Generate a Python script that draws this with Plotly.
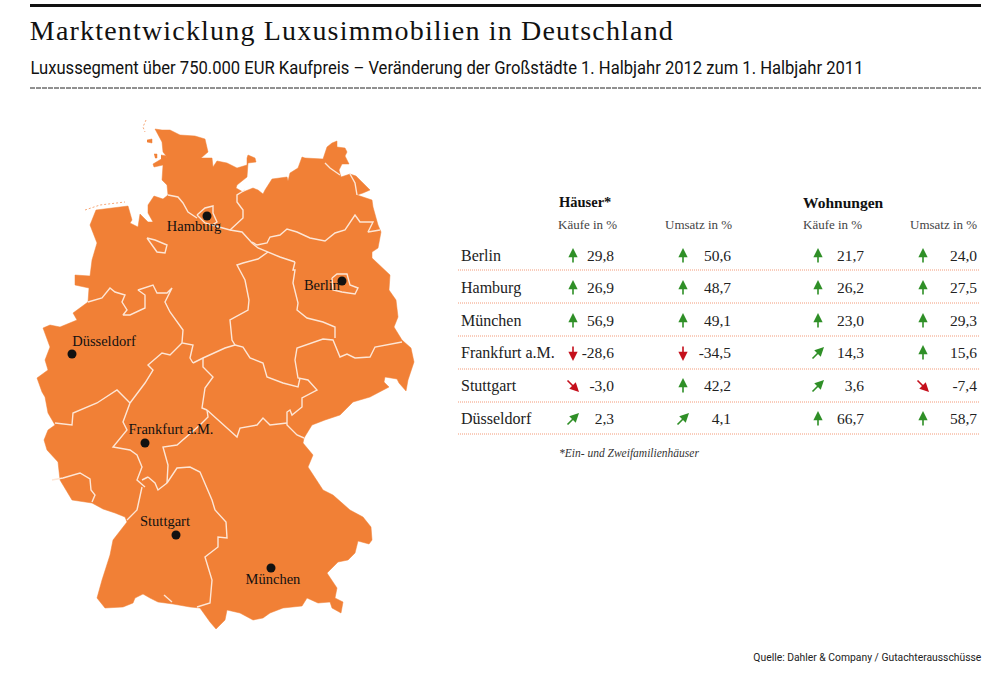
import plotly.graph_objects as go

ORANGE = '#f18036'
BORDER = '#fde6d6'
GREEN = '#2f8f27'
RED = '#c5101c'
SERIF = 'Liberation Serif'
SANS = 'Roboto'

# map outline
outline = [(155,129),(162,130),(170,130),(180,135),(195,136),(205,139),(208,152),(201,158),(212,158),(213,167),
           (217,161),(227,163),(237,168),(247,165),(247,158),(248,155),(255,158),(256,162),(248,163),(247,177),
           (237,185),(236,188),(243,192),(253,188),(258,190),(263,194),(265,190),(272,179),(287,177),(288,181),
           (290,173),(298,168),(302,157),(305,158),(323,159),(327,147),(332,143),(337,141),(337,147),(345,148),
           (347,152),(345,156),(349,164),(342,164),(339,170),(341,177),(350,174),(356,176),(362,182),(370,190),
           (363,193),(357,195),(372,200),(373,207),(378,225),(381,232),(378,248),(372,252),(372,258),(377,263),
           (390,275),(389,290),(396,300),(398,317),(394,327),(402,340),(411,348),(414,362),(408,380),(406,391),
           (399,383),(397,379),(385,377),(384,382),(389,387),(370,397),(353,402),(347,408),(340,415),(325,420),
           (312,425),(304,438),(303,443),(313,455),(308,467),(323,490),(333,495),(350,510),(363,517),(371,527),
           (372,540),(369,544),(358,541),(355,553),(348,560),(338,562),(327,573),(337,588),(335,598),(343,602),
           (341,613),(332,608),(330,602),(318,603),(307,598),(302,606),(283,608),(270,613),(263,618),(253,620),
           (240,613),(227,610),(225,620),(216,629),(210,622),(200,608),(190,607),(173,604),(158,602),(150,598),
           (143,594),(135,598),(133,603),(123,607),(105,608),(97,598),(102,580),(110,555),(113,540),(127,522),
           (125,517),(115,513),(103,509),(92,503),(72,500),(60,480),(58,462),(47,450),(44,440),(48,430),
           (55,425),(48,413),(45,397),(42,392),(38,382),(37,378),(48,370),(45,360),(50,347),(43,328),
           (50,325),(60,327),(77,320),(73,313),(88,302),(89,288),(75,285),(75,275),(90,276),(92,260),
           (97,243),(90,225),(96,210),(128,206),(132,220),(130,223),(138,227),(140,214),(148,222),(153,222),
           (148,213),(148,205),(154,196),(163,199),(168,195),(167,185),(162,180),(163,165),(154,167),(153,164),
           (163,158),(167,157),(163,152),(162,142),(155,129)]

# state borders
borders = [
    [(168,195),(178,197),(183,203),(188,212),(197,218)],
    [(197,215),(205,208),(213,206),(213,213),(217,222),(212,225),(205,223),(197,215)],
    [(212,225),(223,228),(230,230),(242,232),(252,243),(258,248),(268,252),(280,257),(295,262)],
    [(230,230),(243,218),(243,210),(237,202),(237,195),(245,190)],
    [(252,242),(257,245),(267,243),(270,237),(280,235),(287,229),(297,232),(310,238),(325,241),(335,233),(345,230),(355,215),(360,222),(373,222),(368,232),(380,230)],
    [(268,252),(258,259),(243,263),(237,265),(245,280),(249,300),(248,310),(230,320),(232,340),(235,345)],
    [(295,262),(293,270),(295,270),(293,283),(298,303),(297,310),(307,318),(323,322),(335,327),(335,338)],
    [(295,360),(297,348),(323,339),(333,340),(340,357),(347,354),(355,358),(370,357),(375,347),(397,343),(402,342)],
    [(235,345),(243,347),(250,358),(263,363),(267,377),(283,383),(298,387),(300,378)],
    [(295,360),(298,378),(308,380),(317,390),(302,398),(302,407),(292,415),(290,410),(287,412),(287,425),(297,435),(304,438)],
    [(287,423),(270,425),(263,418),(257,425),(240,428),(237,437),(227,428),(213,415),(207,410)],
    [(207,410),(202,408),(205,388),(213,377),(203,367),(203,358)],
    [(235,345),(225,348),(203,358),(193,363)],
    [(88,302),(102,298),(110,288),(115,292),(125,295),(122,302),(127,310),(123,315),(130,315),(145,308),(145,295),(138,290),(153,285),(157,293),(167,293),(172,288),(165,302),(170,312),(183,330),(182,343),(193,345),(190,358),(193,363)],
    [(182,343),(170,355),(162,353),(148,365),(153,370),(145,383),(130,403)],
    [(130,403),(117,390),(97,403),(73,413),(72,425),(55,423)],
    [(147,238),(155,240),(167,245),(165,253),(157,252),(147,238)],
    [(130,403),(123,422),(127,430),(113,447),(130,450),(137,455),(142,467),(137,480),(145,487)],
    [(142,487),(137,510),(127,520)],
    [(148,477),(155,483),(158,490),(167,483)],
    [(142,480),(148,477)],
    [(207,410),(208,417),(200,425),(185,438),(177,445),(163,447),(168,465),(167,483)],
    [(167,483),(177,468),(190,467),(200,472),(212,500),(215,510),(226,522),(227,538),(218,537),(218,547),(205,557),(212,580),(210,603),(197,607)],
    [(164,595),(172,602)],
    [(52,480),(63,478),(80,473),(90,479),(91,490),(95,495),(92,502)],
    [(332,278),(337,274),(347,274),(350,285),(358,288),(355,294),(342,292),(333,290),(332,278)],
    [(325,163),(330,168),(340,175)],
    [(350,174),(355,183),(357,195)],
]

# small islands off the coast
islands = [[(147,140),(152,139),(152,143),(147,142)],
           [(154,154),(157,154),(157,158),(155,158)],
           [(161,155),(167,156),(165,160),(161,159)]]
sandbanks = [[(85,210),(100,205),(125,202)], [(146,120),(143,127),(145,132)]]

cities = ['Berlin', 'Hamburg', 'München', 'Frankfurt a.M.', 'Stuttgart', 'Düsseldorf']
city_dot_x = [342, 207, 271, 145, 176, 72]
city_dot_y = [281, 216, 568, 443, 535, 354]
city_label_x = [322, 194, 273, 171, 165, 104]
city_label_y = [286, 227, 580, 430, 522, 342]

haeuser_kaeufe = ['29,8', '26,9', '56,9', '-28,6', '-3,0', '2,3']
haeuser_umsatz = ['50,6', '48,7', '49,1', '-34,5', '42,2', '4,1']
wohnungen_kaeufe = ['21,7', '26,2', '23,0', '14,3', '3,6', '66,7']
wohnungen_umsatz = ['24,0', '27,5', '29,3', '15,6', '-7,4', '58,7']

# arrow direction per cell: u up, d down, ur up right, dr down right
haeuser_kaeufe_dir = ['u', 'u', 'u', 'd', 'dr', 'ur']
haeuser_umsatz_dir = ['u', 'u', 'u', 'd', 'u', 'ur']
wohnungen_kaeufe_dir = ['u', 'u', 'u', 'ur', 'ur', 'u']
wohnungen_umsatz_dir = ['u', 'u', 'u', 'u', 'dr', 'u']

row_y = [256, 288, 321, 353, 386, 419]
rule_y = [270, 303, 336, 369, 402, 434]

TITLE = 'Marktentwicklung Luxusimmobilien in Deutschland'
SUBTITLE = 'Luxussegment über 750.000 EUR Kaufpreis – Veränderung der Großstädte 1. Halbjahr 2012 zum 1. Halbjahr 2011'
SOURCE = 'Quelle: Dahler & Company / Gutachterausschüsse'

fig = go.Figure()


def shape_trace(pts, fill=True, color=ORANGE, width=0.5, dash=None):
    xs, ys = zip(*pts)
    fig.add_trace(go.Scatter(x=xs, y=ys, mode='lines', fill='toself' if fill else 'none',
                             fillcolor=color, line=dict(color=color, width=width, dash=dash)))


shape_trace(outline)
for pts in islands:
    shape_trace(pts)
for pts in sandbanks:
    shape_trace(pts, fill=False, color='#f7a878', width=1, dash='2px 2px')
for pts in borders:
    shape_trace(pts, fill=False, color=BORDER, width=1.4)

fig.add_trace(go.Scatter(x=city_dot_x, y=city_dot_y, mode='markers',
                         marker=dict(color='#111111', size=9)))
fig.add_trace(go.Scatter(x=city_label_x, y=city_label_y, mode='text', text=cities,
                         textposition='middle center',
                         textfont=dict(family=SERIF, size=14.5, color='#111111')))

# table rules
for y in rule_y:
    fig.add_trace(go.Scatter(x=[458, 979], y=[y, y], mode='lines',
                             line=dict(color='#f39a78', width=1, dash='1px 1px')))

# table text, one pixel below the arrow centres
text_y = [y + 1 for y in row_y]
fig.add_trace(go.Scatter(x=[461] * 6, y=text_y, mode='text', text=cities, textposition='middle right',
                         textfont=dict(family=SERIF, size=16, color='#222222')))
columns = [(614, 573, haeuser_kaeufe, haeuser_kaeufe_dir),
           (731, 683, haeuser_umsatz, haeuser_umsatz_dir),
           (864, 818, wohnungen_kaeufe, wohnungen_kaeufe_dir),
           (977, 923, wohnungen_umsatz, wohnungen_umsatz_dir)]
offsets = {'u': (0, -8, 0, 8), 'd': (0, 8, 0, -8), 'ur': (6, -6, -7, 7), 'dr': (6, 6, -7, -7)}
for val_x, arrow_x, vals, dirs in columns:
    fig.add_trace(go.Scatter(x=[val_x] * 6, y=text_y, mode='text', text=vals, textposition='middle left',
                             textfont=dict(family=SERIF, size=15.5, color='#222222')))
    for d, y in zip(dirs, row_y):
        hx, hy, tx, ty = offsets[d]
        fig.add_annotation(x=arrow_x + hx, y=y + hy, ax=arrow_x + tx, ay=y + ty,
                           xref='x', yref='y', axref='x', ayref='y', text='', showarrow=True,
                           arrowhead=2, arrowsize=1.15, arrowwidth=1.6,
                           arrowcolor=GREEN if d in ('u', 'ur') else RED)


def label(x, y, text, size, family=SERIF, color='#222222', anchor='left'):
    fig.add_annotation(x=x, y=y, text=text, showarrow=False, xanchor=anchor, yanchor='middle',
                       xref='x', yref='y', borderpad=0, borderwidth=0,
                       font=dict(family=family, size=size, color=color))


label(559, 202, '<b>Häuser*</b>', 14.5, color='#111111')
label(803, 202, '<b>Wohnungen</b>', 15.5, color='#111111')
label(558, 224, 'Käufe in %', 13, color='#444444')
label(665, 224, 'Umsatz in %', 13, color='#444444')
label(803, 224, 'Käufe in %', 13, color='#444444')
label(910, 224, 'Umsatz in %', 13, color='#444444')
label(559, 453, '<i>*Ein- und Zweifamilienhäuser</i>', 11.5, color='#333333')

# the three wide texts are centred on their span, their width is set on the page below
label(351.5, 30, TITLE, 28, color='#111111', anchor='center')
label(446.5, 67, SUBTITLE, 18, family=SANS, color='#111111', anchor='center')
label(867, 657, SOURCE.replace('&', '&amp;'), 11, family=SANS, color='#222222', anchor='center')

fig.add_trace(go.Scatter(x=[30, 981], y=[5.5, 5.5], mode='lines', line=dict(color='#111111', width=3)))
fig.add_trace(go.Scatter(x=[30, 981], y=[88, 88], mode='lines',
                         line=dict(color='#222222', width=1, dash='5px 1px')))

fig.update_layout(width=1000, height=683, margin=dict(l=0, r=0, t=0, b=0),
                  showlegend=False, plot_bgcolor='white', paper_bgcolor='white',
                  xaxis=dict(range=[0, 1000], visible=False, fixedrange=True),
                  yaxis=dict(range=[683, 0], visible=False, fixedrange=True))

# plotly has no letter spacing or condensed type
fit_text = """
document.body.style.margin = '0';
var widths = {'Marktentwicklung': [643, 'spacing'], 'Luxussegment': [833, 'spacingAndGlyphs'], 'Quelle:': [228, 'spacingAndGlyphs']};
document.querySelectorAll('.annotation-text').forEach(function (t) {
    var w = widths[t.textContent.split(' ')[0]];
    if (w) {
        t.setAttribute('textLength', w[0]);
        t.setAttribute('lengthAdjust', w[1]);
    }
});
"""
fig.write_html("out.html", config={'displayModeBar': False}, post_script=fit_text)
